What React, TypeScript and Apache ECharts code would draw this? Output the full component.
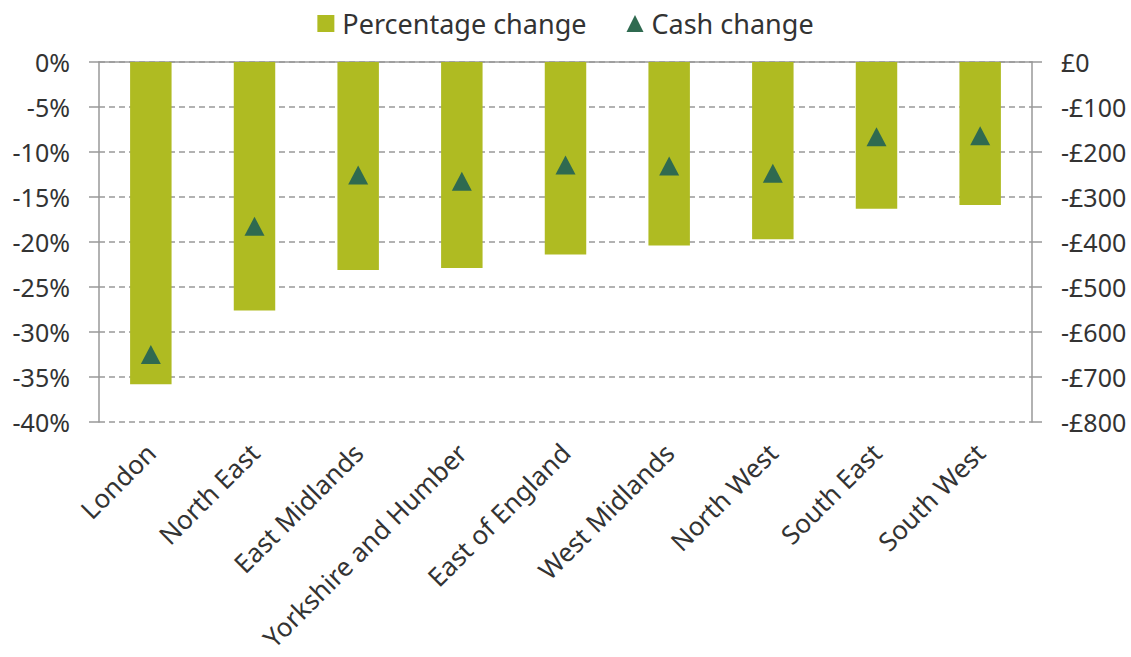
import React, { useEffect, useRef } from "react";
import * as echarts from "echarts";

const categories = [
  "London",
  "North East",
  "East Midlands",
  "Yorkshire and Humber",
  "East of England",
  "West Midlands",
  "North West",
  "South East",
  "South West",
];
const percentageChange = [-35.8, -27.6, -23.1, -22.9, -21.4, -20.4, -19.7, -16.3, -15.9];
const cashChange = [-650, -365, -251, -265, -229, -231, -247, -166, -164];

const BAR_COLOR = "#AFBB22";
const TRI_COLOR = "#2F6A50";
const TEXT = "#333333";
const FONT = "'Noto Sans', 'Open Sans', sans-serif";

export default function App() {
  const ref = useRef<HTMLDivElement>(null);
  useEffect(() => {
    if (!ref.current) return;
    const chart = echarts.init(ref.current, undefined, { renderer: "svg" });
    chart.setOption({
      animation: false,
      textStyle: { fontFamily: FONT },
      legend: {
        top: 5,
        left: "center",
        itemGap: 40,
        itemWidth: 17,
        itemHeight: 17,
        textStyle: { fontSize: 27, color: TEXT, fontFamily: FONT, padding: [0, 0, 0, 3] },
        data: [
          { name: "Percentage change", icon: "rect" },
          { name: "Cash change", icon: "triangle" },
        ],
      },
      grid: { left: 99, right: 99, top: 62, bottom: 235, containLabel: false },
      xAxis: [
        {
          type: "category",
          data: categories,
          position: "bottom",
          axisLine: { show: false },
          axisTick: { show: false },
          axisLabel: {
            rotate: 45,
            interval: 0,
            margin: 26,
            fontSize: 26,
            color: TEXT,
            fontFamily: FONT,
          },
        },
        {
          type: "category",
          data: categories,
          position: "top",
          axisLine: { show: true, onZero: false, lineStyle: { color: "#999999", width: 1.5 } },
          axisTick: { show: false },
          axisLabel: { show: false },
        },
      ],
      yAxis: [
        {
          type: "value",
          min: -40,
          max: 0,
          interval: 5,
          position: "left",
          axisLine: { show: true, lineStyle: { color: "#999999", width: 1.5 } },
          axisTick: { show: true, length: 10, lineStyle: { color: "#999999", width: 1.5 } },
          axisLabel: {
            formatter: (v: number) => `${v}%`,
            margin: 29,
            fontSize: 25,
            color: TEXT,
            fontFamily: FONT,
          },
          splitLine: {
            show: true,
            lineStyle: { color: "#999999", type: [6, 4], width: 1.5 },
          },
        },
        {
          type: "value",
          min: -800,
          max: 0,
          interval: 100,
          position: "right",
          axisLine: { show: true, lineStyle: { color: "#999999", width: 1.5 } },
          axisTick: { show: true, length: 10, lineStyle: { color: "#999999", width: 1.5 } },
          axisLabel: {
            formatter: (v: number) => (v < 0 ? `-£${-v}` : `£${v}`),
            margin: 29,
            fontSize: 25,
            color: TEXT,
            fontFamily: FONT,
          },
          splitLine: { show: false },
        },
      ],
      series: [
        {
          name: "Percentage change",
          type: "bar",
          xAxisIndex: 0,
          yAxisIndex: 0,
          barWidth: "40%",
          itemStyle: { color: BAR_COLOR },
          data: percentageChange,
          z: 2,
        },
        {
          name: "Cash change",
          type: "scatter",
          xAxisIndex: 0,
          yAxisIndex: 1,
          symbol: "triangle",
          symbolSize: [20, 19],
          itemStyle: { color: TRI_COLOR, opacity: 1 },
          data: cashChange,
          z: 3,
        },
      ],
    });
    return () => chart.dispose();
  }, []);
  return <div ref={ref} style={{ width: 1131, height: 657, position: "absolute", left: 0, top: 0 }} />;
}
